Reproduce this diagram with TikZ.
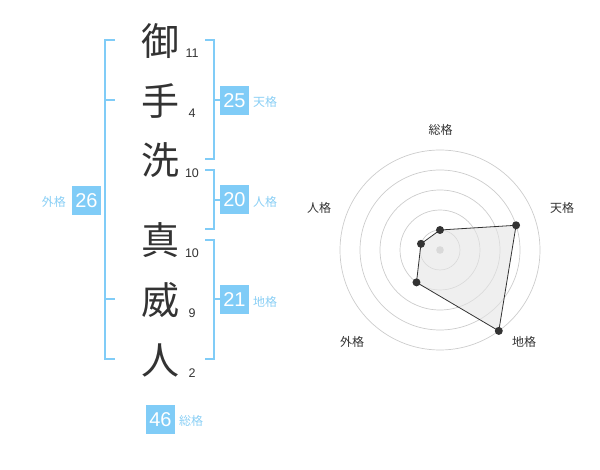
\documentclass[tikz,border=0pt]{standalone}
\usepackage{fontspec}
\setmainfont{Liberation Sans}
\newfontfamily\jp{Noto Sans CJK JP}
\definecolor{bl}{HTML}{80CCF7}
\definecolor{bltxt}{HTML}{8ACFF5}
\definecolor{dk}{HTML}{333333}
\begin{document}
\begin{tikzpicture}[x=1pt,y=-1pt,
  kanji/.style={font=\jp\fontsize{38}{38}\selectfont, text=dk, inner sep=0pt, anchor=center},
  strokes/.style={font=\fontsize{12.5}{12.5}\selectfont, text=dk, inner sep=0pt},
  valbox/.style={fill=bl, text=white, font=\fontsize{20}{20}\selectfont, minimum width=29pt, minimum height=29pt, inner sep=0pt},
  vallab/.style={font=\jp\fontsize{12}{12}\selectfont, text=bltxt, inner sep=0pt},
  brk/.style={draw=bl, line width=2pt},
  ring/.style={draw=black!20, line width=0.7pt},
  rlab/.style={font=\jp\fontsize{12}{12}\selectfont, text=dk, inner sep=0pt},
  pt/.style={circle, fill=dk, inner sep=0pt, minimum size=8pt}]
\useasboundingbox (0,0) rectangle (600,470);
% kanji
\node[kanji] (k1) at (160,41) {御};
\node[kanji] (k2) at (160,101) {手};
\node[kanji] (k3) at (160,160) {洗};
\node[kanji] (k4) at (160,240) {真};
\node[kanji] (k5) at (160,300) {威};
\node[kanji] (k6) at (160,360) {人};
% stroke counts
\node[strokes] (s1) at (192,53) {11};
\node[strokes] (s2) at (192,113) {4};
\node[strokes] (s3) at (192,173) {10};
\node[strokes] (s4) at (192,253) {10};
\node[strokes] (s5) at (192,313) {9};
\node[strokes] (s6) at (192,373) {2};
% brackets
\draw[brk] (115,40) -- (105,40) -- (105,359) -- (115,359);
\draw[brk] (105,100) -- (115,100);
\draw[brk] (105,299) -- (115,299);
\draw[brk] (205,40) -- (214,40) -- (214,159) -- (205,159);
\draw[brk] (214,100) -- (223,100);
\draw[brk] (205,170) -- (214,170) -- (214,229) -- (205,229);
\draw[brk] (214,200) -- (221,200);
\draw[brk] (205,240) -- (214,240) -- (214,359) -- (205,359);
\draw[brk] (214,299) -- (221,299);
% value boxes
\node[valbox] (ten) at (234.5,100.5) {25};
\node[vallab,anchor=west] (tenl) at (253,102) {天格};
\node[valbox] (jin) at (234.5,200) {20};
\node[vallab,anchor=west] (jinl) at (253,202) {人格};
\node[valbox] (chi) at (234.5,300) {21};
\node[vallab,anchor=west] (chil) at (253,302) {地格};
\node[valbox] (gai) at (86.5,200.5) {26};
\node[vallab,anchor=east] (gail) at (66,202) {外格};
\node[valbox] (sou) at (160.5,419.5) {46};
\node[vallab,anchor=west] (soul) at (179,421) {総格};
% radar
\begin{scope}[shift={(440,250)}, y=1pt]
  \foreach \r in {20,40,60,80,100} \draw[ring] (0,0) circle (\r);
  \fill[black!22] (0,0) circle (3.8);
  \coordinate (pS) at (90:20);
  \coordinate (pT) at (18:80);
  \coordinate (pC) at (-54:100);
  \coordinate (pG) at (-126:40);
  \coordinate (pJ) at (162:20);
  \filldraw[fill=black!10, fill opacity=0.6, draw=dk, line width=0.8pt]
    (pS) -- (pT) -- (pC) -- (pG) -- (pJ) -- cycle;
  \foreach \p in {pS,pT,pC,pG,pJ} \node[pt] at (\p) {};
\end{scope}
\node[rlab] (lS) at (440.5,130) {総格};
\node[rlab] (lT) at (562,208) {天格};
\node[rlab] (lC) at (524,342) {地格};
\node[rlab] (lG) at (352,342) {外格};
\node[rlab] (lJ) at (319,208) {人格};
\end{tikzpicture}
\end{document}
